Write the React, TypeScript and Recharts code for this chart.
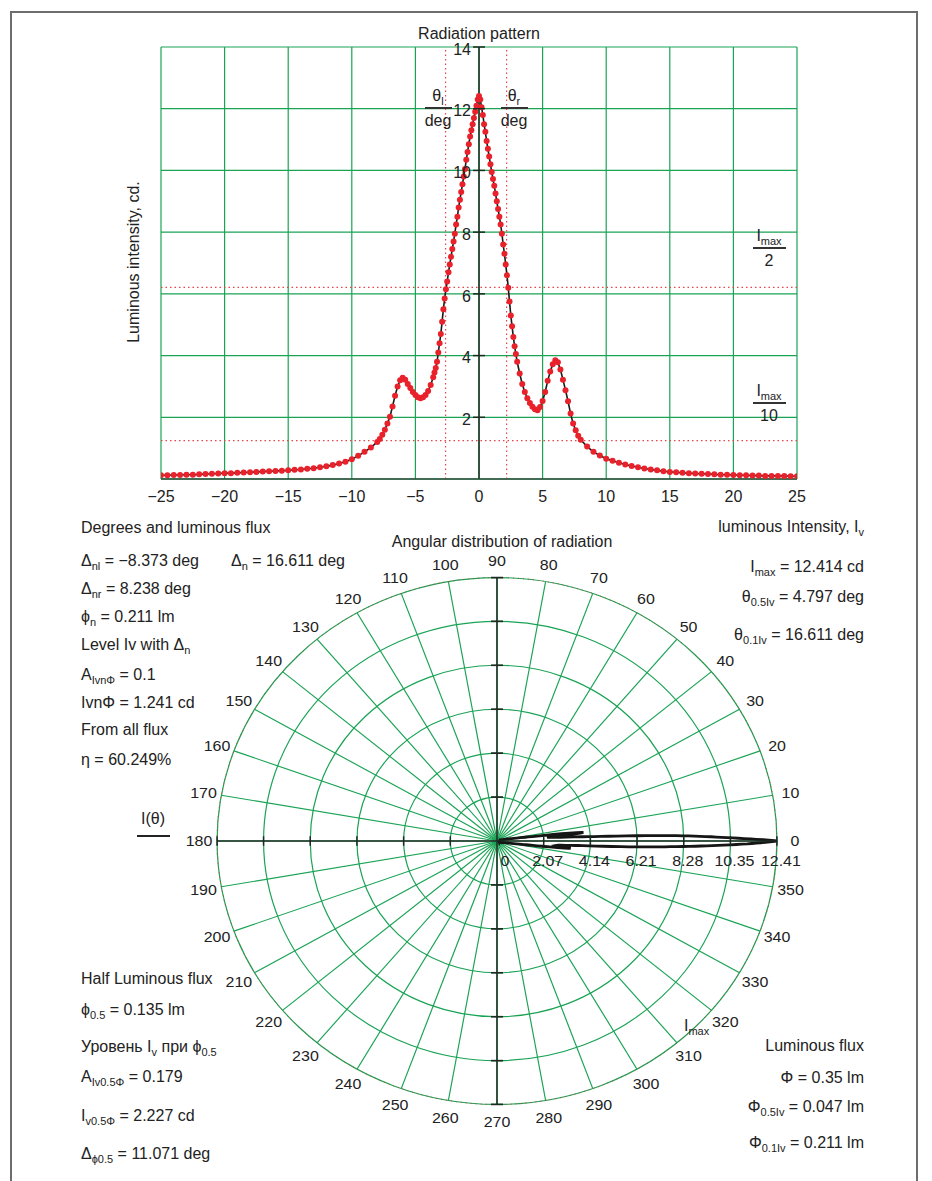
import React from "react";
import {
  CartesianGrid,
  Line,
  LineChart,
  PolarAngleAxis,
  PolarGrid,
  PolarRadiusAxis,
  Radar,
  RadarChart,
  ReferenceLine,
  XAxis,
  YAxis,
} from "recharts";

// angle, deg
const thetaDeg = [
  -25, -24.5, -24, -23.5, -23, -22.5, -22, -21.5, -21, -20.5, -20, -19.5, -19, -18.5, -18,
  -17.5, -17, -16.5, -16, -15.5, -15, -14.5, -14, -13.5, -13, -12.5, -12, -11.5, -11, -10.5,
  -10, -9.5, -9, -8.5, -8,
  -7.8, -7.6, -7.4, -7.2, -7, -6.8, -6.6, -6.4, -6.2, -6, -5.8, -5.6, -5.4, -5.2, -5, -4.8,
  -4.6, -4.4, -4.2, -4, -3.8, -3.6,
  -3.5,
  -3.4, -3.3, -3.2, -3.1, -3, -2.9, -2.8, -2.7, -2.6, -2.5, -2.4, -2.3, -2.2, -2.1, -2, -1.9,
  -1.8, -1.7, -1.6, -1.5, -1.4, -1.3, -1.2, -1.1, -1, -0.9, -0.8, -0.7, -0.6, -0.5, -0.4,
  -0.3, -0.2, -0.1, 0,
  0.1, 0.2, 0.3, 0.4, 0.5, 0.6, 0.7, 0.8, 0.9, 1, 1.1, 1.2, 1.3, 1.4, 1.5, 1.6, 1.7, 1.8,
  1.9, 2, 2.1, 2.2, 2.3, 2.4, 2.5, 2.6, 2.7, 2.8, 2.9, 3,
  3.2, 3.4, 3.6, 3.8, 4, 4.2, 4.4, 4.6, 4.8, 5, 5.2, 5.4, 5.6, 5.8, 6, 6.2, 6.4, 6.6, 6.8,
  7, 7.2, 7.4, 7.6, 7.8, 8,
  8.5, 9, 9.5, 10, 10.5, 11, 11.5, 12, 12.5, 13, 13.5, 14, 14.5, 15, 15.5, 16, 16.5, 17,
  17.5, 18, 18.5, 19, 19.5, 20, 20.5, 21, 21.5, 22, 22.5, 23, 23.5, 24, 24.5, 25,
];

// luminous intensity, cd
const intensityCd = [
  0.12, 0.12, 0.13, 0.13, 0.14, 0.14, 0.15, 0.16, 0.17, 0.18, 0.19, 0.19, 0.2, 0.21, 0.22,
  0.23, 0.24, 0.25, 0.26, 0.27, 0.28, 0.3, 0.31, 0.33, 0.35, 0.38, 0.41, 0.45, 0.5, 0.56,
  0.64, 0.75, 0.88, 1.02, 1.2,
  1.3, 1.43, 1.6, 1.8, 2.02, 2.35, 2.7, 3.0, 3.2, 3.28, 3.22, 3.08, 2.95, 2.82, 2.72, 2.65,
  2.62, 2.65, 2.72, 2.85, 3.05, 3.3,
  3.45,
  3.6, 3.8, 4.1, 4.4, 4.7, 5.1, 5.5, 5.85, 6.15, 6.4, 6.7, 6.95, 7.2, 7.45, 7.7, 7.95,
  8.25, 8.5, 8.8, 9.05, 9.3, 9.55, 9.8, 10.05, 10.35, 10.6, 10.85, 11.1, 11.3, 11.5, 11.7,
  11.9, 12.1, 12.3, 12.41,
  12.3, 12.05, 11.8, 11.5, 11.25, 10.95, 10.7, 10.45, 10.2, 9.95, 9.72, 9.5, 9.25, 9.0, 8.75,
  8.5, 8.25, 7.95, 7.6, 7.3, 6.95, 6.6, 6.2, 5.75, 5.3, 4.95, 4.6, 4.3, 4.05, 3.8,
  3.42, 3.08, 2.82, 2.62, 2.46, 2.34, 2.26, 2.23, 2.33, 2.53, 2.82, 3.18, 3.48, 3.72, 3.85,
  3.78, 3.55, 3.22, 2.88, 2.52, 2.12, 1.8, 1.58, 1.4, 1.27,
  1.05, 0.88, 0.76, 0.66, 0.59, 0.53, 0.47, 0.42, 0.38, 0.34, 0.31, 0.28, 0.25, 0.23, 0.22,
  0.2, 0.19, 0.18, 0.17, 0.16, 0.15, 0.14, 0.14, 0.13, 0.12, 0.12, 0.11, 0.11, 0.1, 0.1,
  0.1, 0.1, 0.09, 0.09,
];

const xTicks = [-25, -20, -15, -10, -5, 0, 5, 10, 15, 20, 25];
const yTicks = [0, 2, 4, 6, 8, 10, 12, 14];
const angleTicks = [
  0, 10, 20, 30, 40, 50, 60, 70, 80, 90, 100, 110, 120, 130, 140, 150, 160, 170, 180, 190,
  200, 210, 220, 230, 240, 250, 260, 270, 280, 290, 300, 310, 320, 330, 340, 350,
];
const radiusTicks = [0, 2.07, 4.14, 6.21, 8.28, 10.35, 12.41];

const I_MAX = 12.414;
const THETA_L = -2.627;
const THETA_R = 2.17;
const HALF_LEVEL = 6.207;
const TENTH_LEVEL = 1.241;

const pattern = thetaDeg.map((theta, i) => ({ theta, intensity: intensityCd[i] }));
// same samples on a 0..360 compass for the polar plot
const polarPattern = thetaDeg.map((theta, i) => ({
  angle: (theta + 360) % 360,
  intensity: intensityCd[i],
}));

const GREEN = "#1aa355";
const AXIS = "#1c2a22";
const RED = "#e8212b";
const TEXT = "#222";

const PLOT_LEFT = 161;
const PLOT_RIGHT = 797;
const Y_AXIS_W = 40;
const X_ZERO = (PLOT_LEFT + PLOT_RIGHT) / 2;

const fmtMinus = (v: number) => (v < 0 ? `\u2212${Math.abs(v)}` : String(v));

function YTick(props: any) {
  const { y, payload } = props;
  if (payload.value === 0) return <g />;
  return (
    <g>
      <line x1={X_ZERO - 6} x2={X_ZERO + 6} y1={y} y2={y} stroke={AXIS} strokeWidth={1.5} />
      <text x={X_ZERO - 8} y={y + 2} dy="0.36em" textAnchor="end" fontSize={16} fill={TEXT}>
        {payload.value}
      </text>
    </g>
  );
}

function AngleTick(props: any) {
  const { x, y, payload } = props;
  const deg = payload.coordinate ?? payload.value;
  const a = (deg * Math.PI) / 180;
  return (
    <text
      x={x + Math.cos(a) * 10}
      y={y - Math.sin(a) * 10}
      dy="0.36em"
      textAnchor="middle"
      fontSize={16}
      fill={TEXT}
    >
      {payload.value}
    </text>
  );
}

function RadiusLabelTick(props: any) {
  const { x, y, payload } = props;
  return (
    <g>
      {payload.value !== 0 && (
        <line x1={x} x2={x} y1={y - 5} y2={y + 5} stroke={AXIS} strokeWidth={1.5} />
      )}
      <text
        x={x + (payload.value === 0 ? 8 : 4)}
        y={y + 21}
        dy="0.36em"
        textAnchor="middle"
        fontSize={16}
        fill={TEXT}
      >
        {payload.value}
      </text>
    </g>
  );
}

function AcrossTick(props: any) {
  const { x, y, payload } = props;
  if (payload.value === 0) return <g />;
  return <line x1={x} x2={x} y1={y - 5} y2={y + 5} stroke={AXIS} strokeWidth={1.5} />;
}

function AlongTick(props: any) {
  const { x, y, payload } = props;
  if (payload.value === 0) return <g />;
  return <line x1={x - 6} x2={x + 6} y1={y} y2={y} stroke={AXIS} strokeWidth={1.8} />;
}

const Sub = ({ children }: { children: React.ReactNode }) => (
  <span style={{ fontSize: 11, position: "relative", top: 4 }}>{children}</span>
);

function Note({
  x,
  y,
  align = "left",
  children,
}: {
  x: number;
  y: number;
  align?: "left" | "right" | "center";
  children: React.ReactNode;
}) {
  const tx = align === "left" ? "0" : align === "right" ? "-100%" : "-50%";
  return (
    <div
      style={{
        position: "absolute",
        left: x,
        top: y,
        transform: `translate(${tx}, -50%)`,
        whiteSpace: "nowrap",
        fontSize: 16,
        lineHeight: "18px",
        color: TEXT,
      }}
    >
      {children}
    </div>
  );
}

function Frac({
  cx,
  lineY,
  w,
  num,
  den,
}: {
  cx: number;
  lineY: number;
  w: number;
  num: React.ReactNode;
  den: React.ReactNode;
}) {
  return (
    <>
      <Note x={cx} y={lineY - 12} align="center">
        {num}
      </Note>
      <div
        style={{
          position: "absolute",
          left: cx - w / 2,
          top: lineY - 0.75,
          width: w,
          height: 1.5,
          background: "#333",
        }}
      />
      <Note x={cx} y={lineY + 13} align="center">
        {den}
      </Note>
    </>
  );
}

export default function App() {
  return (
    <div
      style={{
        position: "absolute",
        left: 0,
        top: 0,
        width: 932,
        height: 1181,
        overflow: "hidden",
        background: "#fff",
        fontFamily: "'Liberation Sans', Arial, sans-serif",
        color: TEXT,
      }}
    >
      <div
        style={{
          position: "absolute",
          left: 10,
          top: 11,
          width: 904,
          height: 1200,
          border: "2px solid #6d6d6d",
        }}
      />

      {/* radiation pattern, cartesian */}
      <div style={{ position: "absolute", left: 0, top: 0 }}>
        <LineChart
          width={932}
          height={520}
          data={pattern}
          margin={{ top: 47, right: 932 - PLOT_RIGHT, bottom: 11, left: PLOT_LEFT - Y_AXIS_W }}
        >
          <CartesianGrid stroke={GREEN} strokeWidth={1.2} />
          <XAxis
            dataKey="theta"
            type="number"
            domain={[-25, 25]}
            ticks={xTicks}
            tickFormatter={fmtMinus}
            tickLine={false}
            tickMargin={6}
            height={30}
            axisLine={{ stroke: "#2a4a38", strokeWidth: 1.5 }}
            tick={{ fontSize: 16, fill: TEXT }}
            allowDataOverflow
          />
          <YAxis
            type="number"
            domain={[0, 14]}
            ticks={yTicks}
            width={Y_AXIS_W}
            axisLine={false}
            tickLine={false}
            tick={YTick}
            allowDataOverflow
          />
          <ReferenceLine x={0} stroke={AXIS} strokeWidth={1.5} />
          <ReferenceLine x={THETA_L} stroke="#e8454a" strokeDasharray="1.5 3" strokeWidth={1.2} />
          <ReferenceLine x={THETA_R} stroke="#e8454a" strokeDasharray="1.5 3" strokeWidth={1.2} />
          <ReferenceLine y={HALF_LEVEL} stroke="#e8454a" strokeDasharray="1.5 3" strokeWidth={1.2} />
          <ReferenceLine y={TENTH_LEVEL} stroke="#e8454a" strokeDasharray="1.5 3" strokeWidth={1.2} />
          <Line
            dataKey="intensity"
            type="linear"
            stroke="#1a1a1a"
            strokeWidth={1.6}
            dot={{ r: 3, fill: RED, stroke: "none" }}
            activeDot={false}
            isAnimationActive={false}
          />
        </LineChart>
      </div>

      {/* angular distribution, polar */}
      <div
        style={{
          position: "absolute",
          left: 497 - 320,
          top: 841 - 320,
          width: 640,
          height: 640,
          transform: "scaleY(0.941)",
          transformOrigin: "50% 50%",
        }}
      >
        <RadarChart
          width={640}
          height={640}
          data={polarPattern}
          cx={320}
          cy={320}
          innerRadius={0}
          outerRadius={280}
          startAngle={0}
          endAngle={360}
          margin={{ top: 0, right: 0, bottom: 0, left: 0 }}
        >
          <PolarGrid gridType="circle" stroke={GREEN} strokeWidth={1.2} />
          <PolarAngleAxis
            dataKey="angle"
            type="number"
            domain={[0, 360]}
            allowDataOverflow
            ticks={angleTicks}
            tick={AngleTick}
            tickLine={false}
            axisLineType="circle"
            axisLine={{ stroke: "#e3333a", strokeDasharray: "1 4", strokeWidth: 1 }}
          />
          <PolarRadiusAxis
            angle={0}
            type="number"
            domain={[0, I_MAX]}
            allowDataOverflow
            ticks={radiusTicks}
            tick={RadiusLabelTick}
            axisLine={{ stroke: AXIS, strokeWidth: 1.5 }}
          />
          <PolarRadiusAxis
            radiusAxisId="up"
            angle={90}
            type="number"
            domain={[0, I_MAX]}
            allowDataOverflow
            ticks={radiusTicks}
            tick={AlongTick}
            axisLine={{ stroke: AXIS, strokeWidth: 1.5 }}
          />
          <PolarRadiusAxis
            radiusAxisId="left"
            angle={180}
            type="number"
            domain={[0, I_MAX]}
            allowDataOverflow
            ticks={radiusTicks}
            tick={AcrossTick}
            axisLine={{ stroke: AXIS, strokeWidth: 1.5 }}
          />
          <PolarRadiusAxis
            radiusAxisId="down"
            angle={270}
            type="number"
            domain={[0, I_MAX]}
            allowDataOverflow
            ticks={radiusTicks}
            tick={AlongTick}
            axisLine={{ stroke: AXIS, strokeWidth: 1.5 }}
          />
          <Radar
            dataKey="intensity"
            stroke="#151515"
            strokeWidth={3}
            fill="none"
            fillOpacity={0}
            dot={false}
            isAnimationActive={false}
          />
        </RadarChart>
      </div>

      {/* top chart texts */}
      <Note x={479} y={34} align="center">
        Radiation pattern
      </Note>
      <div
        style={{
          position: "absolute",
          left: 134,
          top: 262,
          transform: "translate(-50%, -50%) rotate(-90deg)",
          whiteSpace: "nowrap",
          fontSize: 16,
          lineHeight: "18px",
        }}
      >
        Luminous intensity, cd.
      </div>
      <Frac cx={438} lineY={108} w={27} num={<>θ<Sub>l</Sub></>} den="deg" />
      <Frac cx={514} lineY={108} w={27} num={<>θ<Sub>r</Sub></>} den="deg" />
      <Frac cx={769} lineY={248} w={33} num={<>I<Sub>max</Sub></>} den="2" />
      <Frac cx={769} lineY={403} w={33} num={<>I<Sub>max</Sub></>} den="10" />

      {/* polar texts */}
      <Note x={502} y={542} align="center">
        Angular distribution of radiation
      </Note>
      <Note x={81} y={528}>Degrees and luminous flux</Note>
      <Note x={81} y={561}>
        Δ<Sub>nl</Sub> = −8.373 deg
      </Note>
      <Note x={231} y={561}>
        Δ<Sub>n</Sub> = 16.611 deg
      </Note>
      <Note x={81} y={589}>
        Δ<Sub>nr</Sub> = 8.238 deg
      </Note>
      <Note x={81} y={617}>
        ϕ<Sub>n</Sub> = 0.211 lm
      </Note>
      <Note x={81} y={645}>
        Level Iv with Δ<Sub>n</Sub>
      </Note>
      <Note x={81} y={675}>
        A<Sub>IvnΦ</Sub> = 0.1
      </Note>
      <Note x={81} y={703}>IvnΦ = 1.241 cd</Note>
      <Note x={81} y={730}>From all flux</Note>
      <Note x={81} y={760}>η = 60.249%</Note>

      <Note x={864} y={527} align="right">
        luminous Intensity, I<Sub>v</Sub>
      </Note>
      <Note x={864} y={567} align="right">
        I<Sub>max</Sub> = 12.414 cd
      </Note>
      <Note x={864} y={597} align="right">
        θ<Sub>0.5Iv</Sub> = 4.797 deg
      </Note>
      <Note x={864} y={635} align="right">
        θ<Sub>0.1Iv</Sub> = 16.611 deg
      </Note>

      <Note x={153} y={819} align="center">
        I(θ)
      </Note>
      <div
        style={{ position: "absolute", left: 137, top: 835, width: 33, height: 2, background: "#222" }}
      />

      <Note x={81} y={979}>Half Luminous flux</Note>
      <Note x={81} y={1010}>
        ϕ<Sub>0.5</Sub> = 0.135 lm
      </Note>
      <Note x={81} y={1047}>
        Уровень I<Sub>v</Sub> при ϕ<Sub>0.5</Sub>
      </Note>
      <Note x={81} y={1077}>
        A<Sub>Iv0.5Φ</Sub> = 0.179
      </Note>
      <Note x={81} y={1116}>
        I<Sub>v0.5Φ</Sub> = 2.227 cd
      </Note>
      <Note x={81} y={1154}>
        Δ<Sub>ϕ0.5</Sub> = 11.071 deg
      </Note>

      <Note x={684} y={1026}>
        I<Sub>max</Sub>
      </Note>

      <Note x={864} y={1046} align="right">
        Luminous flux
      </Note>
      <Note x={864} y={1078} align="right">
        Φ = 0.35 lm
      </Note>
      <Note x={864} y={1107} align="right">
        Φ<Sub>0.5Iv</Sub> = 0.047 lm
      </Note>
      <Note x={864} y={1143} align="right">
        Φ<Sub>0.1Iv</Sub> = 0.211 lm
      </Note>
    </div>
  );
}
